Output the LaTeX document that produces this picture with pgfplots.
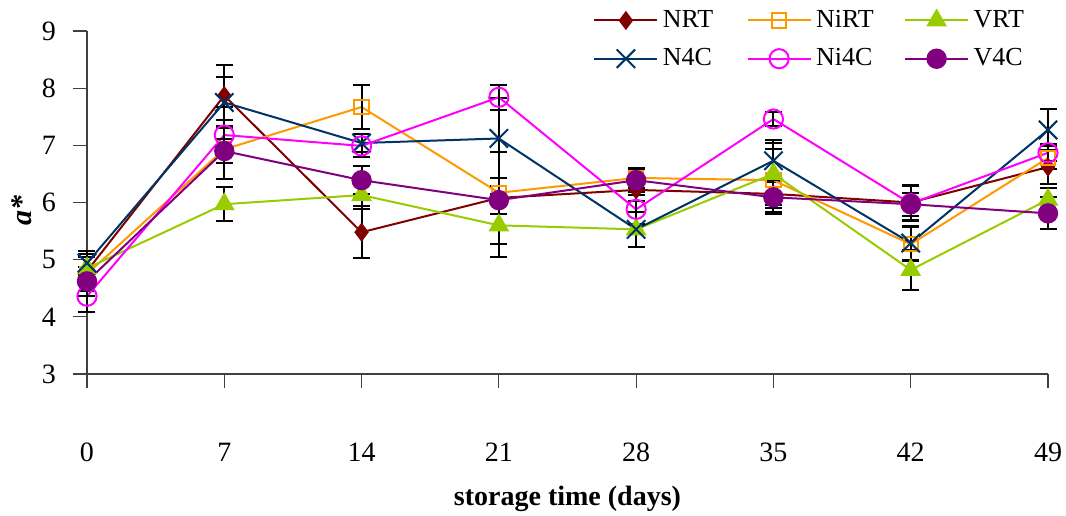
\documentclass[border=0pt]{standalone}
\usepackage{fontspec}
\setmainfont{Liberation Serif}
\usepackage{pgfplots}
\usepackage{pgfplotstable}
\pgfplotsset{compat=1.18}

\definecolor{cNRT}{HTML}{800000}
\definecolor{cNiRT}{HTML}{FF9900}
\definecolor{cVRT}{HTML}{99CC00}
\definecolor{cNfC}{HTML}{003366}
\definecolor{cNifC}{HTML}{FF00FF}
\definecolor{cVfC}{HTML}{800080}

% day, mean and error for each series
\pgfplotstableread{
day nrt nrte nirt nirte vrt vrte nfc nfce nifc nifce vfc vfce
0  4.80 0.35 4.75 0.30 4.85 0.25 4.94 0.21 4.36 0.28 4.62 0.25
7  7.87 0.54 6.93 0.52 5.97 0.30 7.75 0.44 7.18 0.49 6.90 0.21
14 5.48 0.45 7.67 0.38 6.13 0.25 7.04 0.15 6.99 0.20 6.39 0.25
21 6.08 0.80 6.17 0.12 5.60 0.55 7.12 0.70 7.84 0.22 6.04 0.25
28 6.22 0.20 6.43 0.17 5.53 0.30 5.53 0.30 5.88 0.25 6.39 0.20
35 6.15 0.20 6.39 0.55 6.50 0.60 6.73 0.31 7.46 0.12 6.09 0.30
42 6.00 0.30 5.27 0.30 4.82 0.35 5.29 0.30 5.98 0.30 5.97 0.20
49 6.62 0.30 6.78 0.20 6.05 0.20 7.27 0.36 6.87 0.15 5.81 0.28
}\data

\begin{document}
\begin{tikzpicture}
\begin{axis}[
    scale only axis,
    width=480.5pt, height=171.5pt,
    xmin=0, xmax=49, ymin=3, ymax=9,
    xtick={0,7,...,49}, ytick={3,...,9},
    axis x line*=bottom, axis y line*=left,
    axis line style={draw=black!75, line width=0.6pt},
    tick style={draw=black!75, line width=0.6pt},
    tick align=outside, major tick length=7pt,
    clip=false,
    /pgf/number format/assume math mode=true,
    ticklabel style={font=\fontsize{14}{16}\selectfont},
    xticklabel style={yshift=-24pt},
    yticklabel style={xshift=-5pt},
    xlabel={\textbf{storage time (days)}},
    xlabel style={at={(axis description cs:0.5,-0.365)}, anchor=center, font=\fontsize{14}{16}\selectfont},
    ylabel={\textbf{\textit{a*}}},
    ylabel style={at={(axis description cs:-0.0676,0.477)}, anchor=center, font=\fontsize{15}{17}\selectfont},
    every axis plot/.append style={line width=1pt,
        error bars/error bar style={black, line width=1pt},
        error bars/error mark options={black, rotate=90, mark size=4.25pt, line width=1pt}},
    legend columns=3,
    legend cell align=left,
    legend style={draw=none, fill=none, inner sep=0pt,
        at={(axis description cs:0,1)}, anchor=north west, xshift=253pt, yshift=12.5pt,
        font=\fontsize{13}{15}\selectfont,
        nodes={inner xsep=2.2pt},
        /tikz/column 2/.style={column sep=14.5pt},
        /tikz/column 4/.style={column sep=13pt},
        /tikz/row sep=5pt},
    legend image code/.code={\draw[mark repeat=2,mark phase=2] plot coordinates {(0pt,0pt) (15.75pt,0pt) (31.5pt,0pt)};},
]
\addplot[cNRT, mark=diamond*, mark size=4pt, mark options={solid, fill=cNRT},
    error bars/.cd, y dir=both, y explicit]
    table[x=day, y=nrt, y error=nrte] {\data};
\addlegendentry{NRT}
\addplot[cNiRT, mark=square, mark size=3.6pt, mark options={solid, fill=white},
    error bars/.cd, y dir=both, y explicit]
    table[x=day, y=nirt, y error=nirte] {\data};
\addlegendentry{NiRT}
\addplot[cVRT, mark=triangle*, mark size=5pt, mark options={solid, fill=cVRT},
    error bars/.cd, y dir=both, y explicit]
    table[x=day, y=vrt, y error=vrte] {\data};
\addlegendentry{VRT}
\addplot[cNfC, mark=x, mark size=6.5pt, mark options={solid},
    error bars/.cd, y dir=both, y explicit]
    table[x=day, y=nfc, y error=nfce] {\data};
\addlegendentry{N4C}
\addplot[cNifC, mark=o, mark size=4.8pt, mark options={solid},
    error bars/.cd, y dir=both, y explicit]
    table[x=day, y=nifc, y error=nifce] {\data};
\addlegendentry{Ni4C}
\addplot[cVfC, mark=*, mark size=4.6pt, mark options={solid, fill=cVfC},
    error bars/.cd, y dir=both, y explicit]
    table[x=day, y=vfc, y error=vfce] {\data};
\addlegendentry{V4C}
\end{axis}
\pgfresetboundingbox
\useasboundingbox ([xshift=-43.5pt,yshift=-71pt]current axis.south west) rectangle ([xshift=9pt,yshift=15.5pt]current axis.north east);
\end{tikzpicture}
\end{document}
